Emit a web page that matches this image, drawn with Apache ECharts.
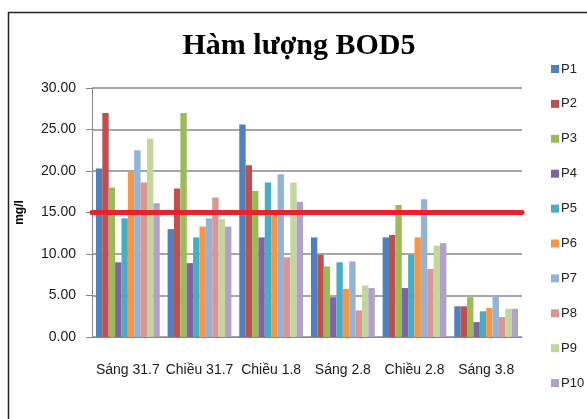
<!DOCTYPE html>
<html>
<head>
<meta charset="utf-8">
<script src="https://cdn.jsdelivr.net/npm/echarts@6/dist/echarts.min.js"></script>
<style>
  html, body { margin: 0; padding: 0; background: #fff; }
  #chart { width: 587px; height: 419px; }
</style>
</head>
<body>
<div id="chart"></div>
<script>
// Sampling sessions (morning / afternoon, by date)
const categories = ['Sáng 31.7', 'Chiều 31.7', 'Chiều 1.8', 'Sáng 2.8', 'Chiều 2.8', 'Sáng 3.8'];

// BOD5 (mg/l) per sampling point
const P1  = [20.3, 13.0, 25.6, 12.0, 12.0, 3.7];
const P2  = [27.0, 17.9, 20.7,  9.9, 12.3, 3.7];
const P3  = [18.0, 27.0, 17.6,  8.5, 15.9, 4.8];
const P4  = [ 9.0,  8.9, 12.0,  4.8,  5.9, 1.8];
const P5  = [14.3, 12.0, 18.6,  9.0,  9.9, 3.1];
const P6  = [20.0, 13.3, 14.9,  5.8, 12.0, 3.5];
const P7  = [22.5, 14.3, 19.6,  9.1, 16.6, 5.0];
const P8  = [18.6, 16.8,  9.6,  3.2,  8.2, 2.4];
const P9  = [23.9, 14.2, 18.6,  6.2, 11.0, 3.4];
const P10 = [16.1, 13.3, 16.3,  5.9, 11.3, 3.4];

const seriesNames = ['P1', 'P2', 'P3', 'P4', 'P5', 'P6', 'P7', 'P8', 'P9', 'P10'];
const seriesValues = [P1, P2, P3, P4, P5, P6, P7, P8, P9, P10];

// Permitted limit drawn as a horizontal line
const limitValue = 15;

// Y axis ticks
const yMin = 0, yMax = 30, yStep = 5;

const colors = ['#4F81BD', '#C0504D', '#9BBB59', '#8064A2', '#4BACC6',
                '#F79646', '#95B3D7', '#DA9694', '#C3D69B', '#B1A0C7'];

const labelFont = '"Liberation Sans", Arial, sans-serif';

const series = seriesNames.map((name, i) => {
  const s = {
    name: name,
    type: 'bar',
    data: seriesValues[i],
    barGap: '0%',
    barCategoryGap: '11%',
    itemStyle: { color: colors[i] }
  };
  if (i === 0) {
    s.markLine = {
      silent: true,
      symbol: 'none',
      label: { show: false },
      lineStyle: { color: '#E8222A', width: 5, type: 'solid', cap: 'round' },
      data: [{ yAxis: limitValue }]
    };
  }
  return s;
});

const chart = echarts.init(document.getElementById('chart'), null, { renderer: 'canvas' });
chart.setOption({
  animation: false,
  backgroundColor: '#fff',
  color: colors,
  title: {
    text: 'Hàm lượng BOD5',
    left: 294,
    textAlign: 'center',
    top: 26,
    textStyle: {
      fontFamily: '"Liberation Serif", "Times New Roman", serif',
      fontSize: 30,
      fontWeight: 'bold',
      color: '#000'
    }
  },
  legend: {
    orient: 'vertical',
    left: 546,
    top: 57,
    itemWidth: 8,
    itemHeight: 8,
    itemGap: 20.9,
    icon: 'rect',
    textStyle: { fontFamily: labelFont, fontSize: 13, color: '#222', lineHeight: 14, padding: [0, 0, 0, -3] },
    data: seriesNames
  },
  grid: { left: 92, right: 65, top: 88, bottom: 82 },
  xAxis: {
    type: 'category',
    data: categories,
    axisLine: { lineStyle: { color: '#888', width: 1 } },
    axisTick: { show: false },
    axisLabel: { fontFamily: labelFont, fontSize: 14, color: '#1a1a1a', margin: 26, interval: 0 }
  },
  yAxis: {
    type: 'value',
    min: yMin,
    max: yMax,
    interval: yStep,
    name: 'mg/l',
    nameLocation: 'middle',
    nameGap: 66,
    nameRotate: 90,
    nameTextStyle: { fontFamily: labelFont, fontSize: 12, fontWeight: 'bold', color: '#000' },
    axisLine: { show: true, lineStyle: { color: '#888', width: 1 } },
    axisTick: { show: true, length: 6, lineStyle: { color: '#888' } },
    axisLabel: {
      fontFamily: labelFont, fontSize: 14, color: '#1a1a1a', margin: 16,
      formatter: v => v.toFixed(2)
    },
    splitLine: { lineStyle: { color: '#8a8a8a', width: 1.5 } }
  },
  graphic: [{
    type: 'rect',
    silent: true,
    shape: { x: 8.5, y: 12.5, width: 600, height: 430 },
    style: { fill: 'none', stroke: '#222', lineWidth: 1.5 },
    z: 100
  }],
  series: series
});
</script>
</body>
</html>
